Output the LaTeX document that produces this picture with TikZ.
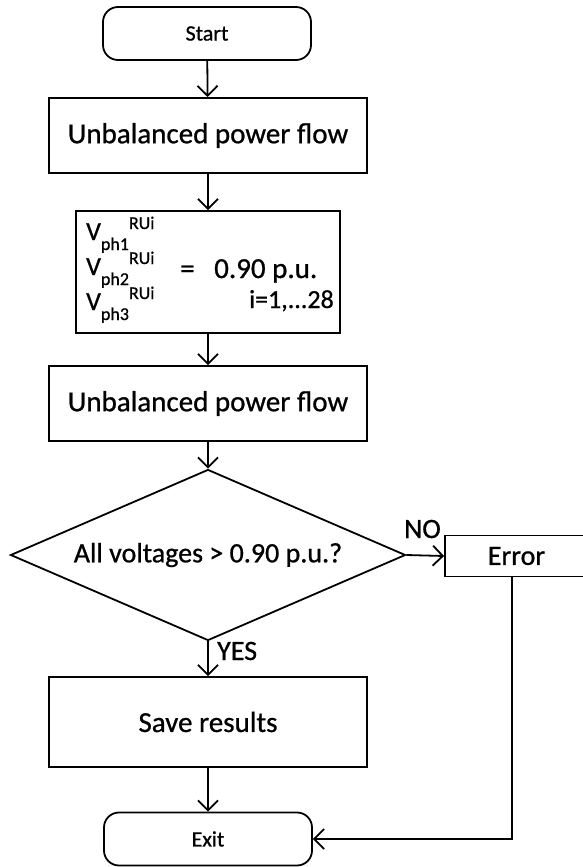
\documentclass[tikz,border=0pt]{standalone}
\usepackage{fontspec}
\setmainfont{Carlito}[FakeBold=0.8]
\usetikzlibrary{shapes.geometric,arrows.meta}
\newcommand\fs[1]{\fontsize{#1}{#1}\selectfont}
\newcommand\vph[1]{V\raisebox{-10pt}{\fs{18}ph#1}\raisebox{11pt}{\fs{18}RUi}}
\begin{document}
\begin{tikzpicture}[x=1pt,y=-1pt,
  every node/.style={inner sep=0pt},
  base/.style={draw,line width=1.8pt},
  procbox/.style={base,rectangle,font=\fs{29}},
  termbox/.style={base,rectangle,rounded corners=15pt,font=\fs{22},minimum width=208pt,minimum height=53pt},
  decbox/.style={base,diamond,aspect=2.31,font=\fs{28},minimum width=395pt,minimum height=171pt},
  lbl/.style={font=\fs{28}},
  flow/.style={line width=1.8pt,-{Straight Barb[length=10pt,width=20pt,line width=1.8pt]}}]
\useasboundingbox (0,0) rectangle (582,867);
\fill[white] (0,0) rectangle (582,867);
\node[termbox] (start) at (207,33.5) {Start};
\node[procbox,minimum width=318pt,minimum height=75pt] (pf1) at (208,135.5) {Unbalanced power flow};
\node[procbox,minimum width=264pt,minimum height=122pt] (vset) at (208,272) {};
\node[anchor=base west,font=\fs{26}] (v1) at (86,240) {\vph{1}};
\node[anchor=base west,font=\fs{26}] (v2) at (86,275) {\vph{2}};
\node[anchor=base west,font=\fs{26}] (v3) at (86,310) {\vph{3}};
\node[anchor=base west,font=\fs{29}] (eq) at (180,278) {=};
\node[anchor=base west,font=\fs{29}] (val) at (214,278) {0.90 p.u.};
\node[anchor=base east,font=\fs{26}] (idx) at (334,308) {i=1,...28};
\node[procbox,minimum width=318pt,minimum height=75pt] (pf2) at (208,403.5) {Unbalanced power flow};
\node[decbox] (dec) at (208,555) {All voltages > 0.90 p.u.?};
\node[procbox,minimum width=143pt,minimum height=41pt,font=\fs{28}] (err) at (516.5,556) {Error};
\node[procbox,minimum width=318pt,minimum height=90pt] (save) at (208,722) {Save results};
\node[termbox] (exit) at (208,839) {Exit};
\node[lbl,anchor=base west] (no) at (404,538) {NO};
\node[lbl,anchor=base west] (yes) at (217,660) {YES};
\coordinate (eb) at (512,839);
\draw[flow] (start) -- (pf1);
\draw[flow] (pf1) -- (vset);
\draw[flow] (vset) -- (pf2);
\draw[flow] (pf2) -- (dec.north);
\draw[flow] (dec.east) -- (err.west);
\draw[flow] (dec.south) -- (save);
\draw[flow] (save) -- (exit);
\draw[flow] (err.south -| eb) -- (eb) -- (exit.east);
\end{tikzpicture}
\end{document}
